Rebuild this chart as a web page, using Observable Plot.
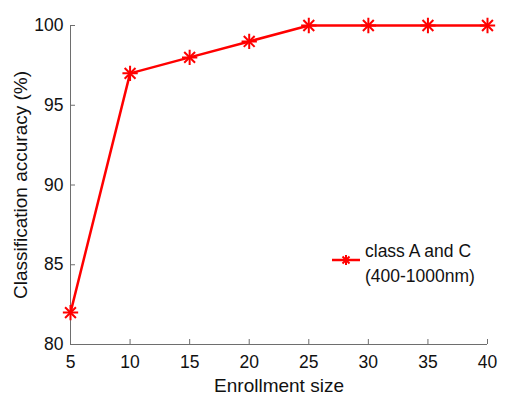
<!DOCTYPE html>
<html>
<head>
<meta charset="utf-8">
<script src="https://cdn.jsdelivr.net/npm/d3@7"></script>
<script src="https://cdn.jsdelivr.net/npm/@observablehq/plot@0.6"></script>
<style>
  html, body { margin: 0; padding: 0; background: #fff; }
  #wrap { position: relative; width: 520px; height: 397px; font-family: "Liberation Sans", Arial, sans-serif; }
  #legend { position: absolute; left: 330px; top: 240px; display: flex; align-items: flex-start; }
  #legend .txt { font-size: 17.5px; line-height: 25px; color: #111; margin-left: 3px; margin-top: -1px; }
</style>
</head>
<body>
<div id="wrap">
  <div id="chart"></div>
  <div id="legend">
    <svg width="32" height="40" style="margin-top:6px"><g stroke="#ff0000" stroke-width="2.5" fill="none">
      <line x1="2" y1="14" x2="30" y2="14"></line>
      <path d="M16 9 V19 M11 14 H21 M12.5 10.5 L19.5 17.5 M19.5 10.5 L12.5 17.5" stroke-width="2"></path>
    </g></svg>
    <div class="txt">class A and C<br>(400-1000nm)</div>
  </div>
</div>
<script>
const enrollmentSize = [5, 10, 15, 20, 25, 30, 35, 40];
const accuracy = [82, 97, 98, 99, 100, 100, 100, 100];
const xTicks = [5, 10, 15, 20, 25, 30, 35, 40];
const yTicks = [80, 85, 90, 95, 100];

const data = enrollmentSize.map((x, i) => ({x, y: accuracy[i]}));
const axisColor = "#6e6e6e";

const chart = Plot.plot({
  width: 520,
  height: 397,
  marginLeft: 70,
  marginRight: 33,
  marginTop: 25,
  marginBottom: 53,
  style: {fontFamily: "'Liberation Sans', Arial, sans-serif", fontSize: "17.5px", color: "#111", background: "#fff"},
  x: {domain: [5, 40], ticks: xTicks},
  y: {domain: [80, 100], ticks: yTicks},
  marks: [
    Plot.ruleY([80], {stroke: axisColor, strokeWidth: 1}),
    Plot.ruleX([5], {stroke: axisColor, strokeWidth: 1}),
    Plot.axisX(xTicks, {tickSize: -5, stroke: axisColor, tickFormat: () => "", label: null}),
    Plot.axisY(yTicks, {tickSize: -5, stroke: axisColor, tickFormat: () => "", label: null}),
    Plot.axisX(xTicks, {tickSize: 0, tickPadding: 11, fontSize: 17.5, fill: "#111", label: null}),
    Plot.axisY(yTicks, {tickSize: 0, tickPadding: 7, fontSize: 17.5, fill: "#111", label: null}),
    Plot.text(["Enrollment size"], {frameAnchor: "bottom", dy: 47, fontSize: 19, fill: "#111"}),
    Plot.text(["Classification accuracy (%)"], {frameAnchor: "left", textAnchor: "middle", dx: -50, rotate: -90, fontSize: 19, fill: "#111"}),
    Plot.line(data, {x: "x", y: "y", stroke: "#ff0000", strokeWidth: 2.5}),
    Plot.dot(data, {x: "x", y: "y", symbol: "plus", r: 5, stroke: "#ff0000", strokeWidth: 2}),
    Plot.dot(data, {x: "x", y: "y", symbol: "times", r: 5, stroke: "#ff0000", strokeWidth: 2})
  ]
});
document.getElementById("chart").appendChild(chart);
</script>
</body>
</html>
